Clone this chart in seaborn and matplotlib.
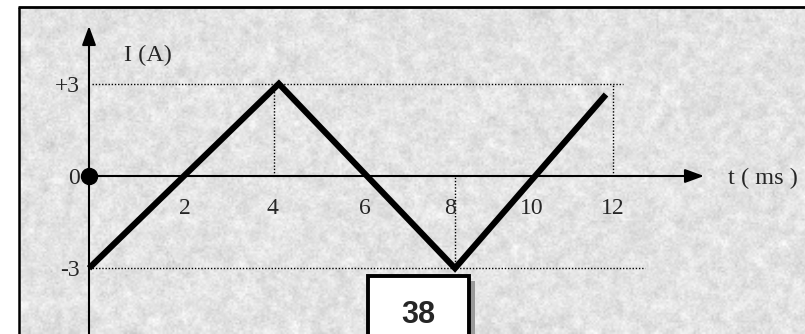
import numpy as np
import matplotlib
matplotlib.use("Agg")
import matplotlib.pyplot as plt
from matplotlib.patches import Rectangle
import seaborn as sns

# Triangular current waveform (time in ms, current in A)
t_ms = [0.0, 4.15, 8.0, 11.3]
current_a = [-3.0, 3.0, -3.0, 2.65]

# Time axis tick labels and where they sit along the axis
x_tick_pos = [2.1, 4.0, 6.03, 7.89, 9.68, 11.45]
x_tick_labels = ["2", "4", "6", "8", "10", "12"]

# Current axis labels
y_tick_pos = [3.0, 0.0, -3.0]
y_tick_labels = ["+3", "0", "-3"]

# Dotted guide lines: (x0, x1, y0, y1)
guides = [
    (0.07, 11.67, 3.0, 3.0),
    (0.0, 12.15, -3.0, -3.0),
    (4.04, 4.04, 0.0, 3.0),
    (7.99, 7.99, -3.0, 0.0),
    (11.45, 11.45, 0.0, 3.0),
]

page_number = "38"

sns.set_theme(style="white")
plt.rcParams["font.family"] = ["Liberation Serif", "DejaVu Serif"]

W, H = 805, 334
fig = plt.figure(figsize=(W / 100, H / 100), dpi=100)
ax = fig.add_axes([0, 0, 1, 1])

# pixel <-> data mapping for the drawing area
x0_px, y0_px = 89.0, 176.0
px_per_ms, px_per_a = 45.75, 30.75


def tx(px):
    return (px - x0_px) / px_per_ms


def ty(py):
    return (y0_px - py) / px_per_a


ax.set_xlim(tx(0), tx(W))
ax.set_ylim(ty(H), ty(0))
ax.axis("off")

# speckled stone-like paper inside the frame
rng = np.random.default_rng(7)
coarse = rng.normal(0.0, 1.0, (60, 150))
fine = rng.normal(0.0, 1.0, (170, 400))
paper_ext = (tx(19), tx(W), ty(H), ty(7))
ax.imshow(coarse, extent=paper_ext, cmap="gray", vmin=-15, vmax=1.7,
          interpolation="bicubic", aspect="auto", zorder=0)
ax.imshow(fine, extent=paper_ext, cmap="gray", vmin=-15, vmax=1.9,
          interpolation="bilinear", aspect="auto", alpha=0.45, zorder=0.1)

# frame lines (top and left)
ax.plot([tx(18), tx(W + 2)], [ty(7), ty(7)], color="black", lw=2.0,
        solid_capstyle="butt", zorder=3, clip_on=False)
ax.plot([tx(19), tx(19)], [ty(7), ty(H + 2)], color="black", lw=1.8,
        solid_capstyle="butt", zorder=3, clip_on=False)

# dotted guides
for gx0, gx1, gy0, gy1 in guides:
    ax.plot([gx0, gx1], [gy0, gy1], color="black", lw=1.0,
            linestyle=(0, (1.0, 1.3)), zorder=2)

# axes with arrowheads
arrow = dict(arrowstyle="-|>,head_length=1.15,head_width=0.42", lw=1.5,
             color="black", shrinkA=0, shrinkB=0, mutation_scale=10)
ax.annotate("", xy=(tx(704), 0), xytext=(0, 0), arrowprops=arrow, zorder=4)
ax.annotate("", xy=(0, ty(26)), xytext=(0, ty(H + 5)), arrowprops=arrow, zorder=4)

# waveform
sns.lineplot(x=t_ms, y=current_a, ax=ax, color="black", lw=4.4, sort=False,
             estimator=None, zorder=5)
ax.lines[-1].set_solid_joinstyle("miter")
ax.lines[-1].set_solid_capstyle("butt")

# origin dot
ax.plot([0], [0], "o", color="black", ms=11.5, zorder=6)

# labels
for xp, lab in zip(x_tick_pos, x_tick_labels):
    ax.text(xp, ty(208), lab, ha="center", va="center", fontsize=17, zorder=6)
for yp, lab in zip(y_tick_pos, y_tick_labels):
    ax.text(tx(80), yp - 0.08, lab, ha="right", va="center", fontsize=17, zorder=6)
ax.text(tx(124), ty(55), "I (A)", ha="left", va="center", fontsize=17.5, zorder=6)
ax.text(tx(728), ty(178), "t ( ms )", ha="left", va="center", fontsize=17.5, zorder=6)

# page number box with a soft grey drop shadow
bx0, bx1, by0 = tx(368), tx(469), ty(276)
ax.add_patch(Rectangle((bx0 + 6 / px_per_ms, ty(H + 10)), bx1 - bx0,
                       by0 - ty(H + 10) - 5 / px_per_a, facecolor="#9a9a9a",
                       edgecolor="none", zorder=6))
ax.add_patch(Rectangle((bx0, ty(H + 10)), bx1 - bx0, by0 - ty(H + 10),
                       facecolor="white", edgecolor="black", lw=2.8, zorder=7))
ax.text((bx0 + bx1) / 2, ty(315), page_number, ha="center", va="center",
        fontsize=22, fontweight="bold", family=["Liberation Sans", "DejaVu Sans"],
        zorder=8)

fig.savefig("out.png", dpi=100, facecolor="white")
